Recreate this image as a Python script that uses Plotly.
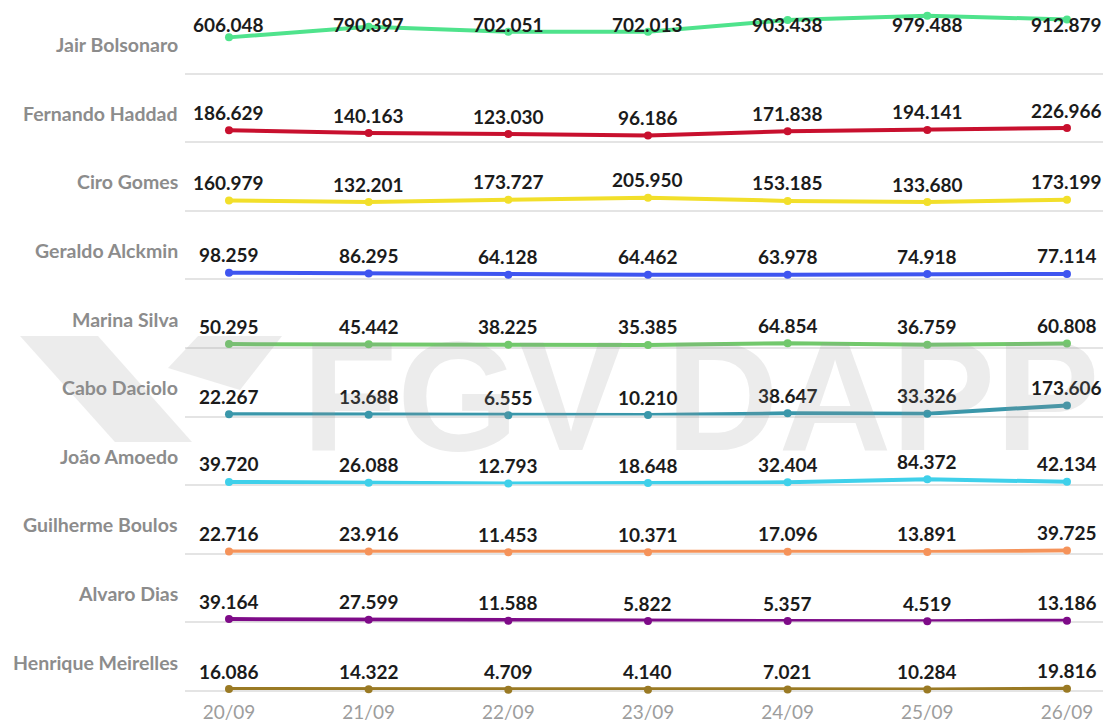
import plotly.graph_objects as go
from plotly.subplots import make_subplots

dates = ["20/09", "21/09", "22/09", "23/09", "24/09", "25/09", "26/09"]

candidates = ["Jair Bolsonaro", "Fernando Haddad", "Ciro Gomes", "Geraldo Alckmin",
              "Marina Silva", "Cabo Daciolo", "João Amoedo", "Guilherme Boulos",
              "Alvaro Dias", "Henrique Meirelles"]

bolsonaro = [606048, 790397, 702051, 702013, 903438, 979488, 912879]
haddad = [186629, 140163, 123030, 96186, 171838, 194141, 226966]
ciro = [160979, 132201, 173727, 205950, 153185, 133680, 173199]
alckmin = [98259, 86295, 64128, 64462, 63978, 74918, 77114]
marina = [50295, 45442, 38225, 35385, 64854, 36759, 60808]
daciolo = [22267, 13688, 6555, 10210, 38647, 33326, 173606]
amoedo = [39720, 26088, 12793, 18648, 32404, 84372, 42134]
boulos = [22716, 23916, 11453, 10371, 17096, 13891, 39725]
alvaro = [39164, 27599, 11588, 5822, 5357, 4519, 13186]
meirelles = [16086, 14322, 4709, 4140, 7021, 10284, 19816]

series = [bolsonaro, haddad, ciro, alckmin, marina, daciolo, amoedo, boulos, alvaro, meirelles]

colors = ["#4fe38c", "#c8102e", "#f2df2a", "#3f55f0", "#72c86c",
          "#3a97aa", "#3fd0ea", "#f5935a", "#7e0b88", "#9a7a24"]

W, H = 1103, 723
ML, MR, MT, MB = 185, 0, 4, 33
NR = 10
YMAX = 1180000
LABEL_CAP = 516000

fig = make_subplots(rows=NR, cols=1, shared_xaxes=True, vertical_spacing=0)

x_idx = list(range(len(dates)))

def fmt(v):
    return f"{v:,}".replace(",", ".")

for r, (name, vals, col) in enumerate(zip(candidates, series, colors), start=1):
    fig.add_trace(go.Scatter(
        x=x_idx, y=vals, mode="lines+markers",
        line=dict(color=col, width=4),
        marker=dict(color=col, size=8),
        cliponaxis=False, showlegend=False, hoverinfo="skip"), row=r, col=1)
    yname = "y" if r == 1 else f"y{r}"
    for i, v in enumerate(vals):
        fig.add_annotation(x=i, y=min(v, LABEL_CAP), xref="x" if r == 1 else f"x{r}", yref=yname,
                           text=fmt(v), showarrow=False, yanchor="middle", yshift=18,
                           font=dict(family="Lato", size=19, color="#1b1b1b", weight="bold"))
    fig.add_annotation(x=0, xref="paper", y=0, yref=f"{yname} domain", text=name,
                       showarrow=False, xanchor="right", xshift=-5, yanchor="middle", yshift=28,
                       font=dict(family="Lato", size=19.5, color="#8c8c8c", weight="bold"))

fig.update_yaxes(range=[0, YMAX], showticklabels=False, showgrid=False, zeroline=False,
                 fixedrange=True)
fig.update_xaxes(range=[-0.315, 6.258], showgrid=False, zeroline=False,
                 showline=True, linecolor="#e4e4e4", linewidth=1.5, layer="below traces",
                 tickvals=x_idx, ticktext=dates, ticks="", ticklabelstandoff=4,
                 tickfont=dict(family="Lato", size=19, color="#9d9d9d"))

# watermark (FGV DAPP logo + text)
PW = W - ML - MR
PH = H - MT - MB

def px(xp, yp):
    return (xp - ML) / PW, (H - MB - yp) / PH

def path(points):
    s = ""
    for k, (a, b) in enumerate(points):
        xx, yy = px(a, b)
        s += ("M" if k == 0 else "L") + f"{xx:.4f},{yy:.4f} "
    return s + "Z"

wm = "rgba(150,150,150,0.18)"
fig.add_shape(type="path", xref="paper", yref="paper", layer="above", line_width=0,
              fillcolor=wm, path=path([(20, 336), (98, 336), (192, 442), (115, 442)]))
fig.add_shape(type="path", xref="paper", yref="paper", layer="above", line_width=0,
              fillcolor=wm, path=path([(198, 336), (282, 336), (240, 390), (168, 368)]))
cx, cy = px(700, 396)
fig.add_annotation(x=cx, y=cy, xref="paper", yref="paper", text="FGV DAPP", showarrow=False,
                   xanchor="center", yanchor="middle",
                   font=dict(family="Liberation Sans", size=156, color=wm, weight="bold"))

fig.update_layout(width=W, height=H, margin=dict(l=ML, r=MR, t=MT, b=MB),
                  plot_bgcolor="white", paper_bgcolor="white", showlegend=False)

fig.write_html("out.html", config={"displayModeBar": False},
               post_script="document.body.style.margin='0px';document.body.style.overflow='hidden';")
